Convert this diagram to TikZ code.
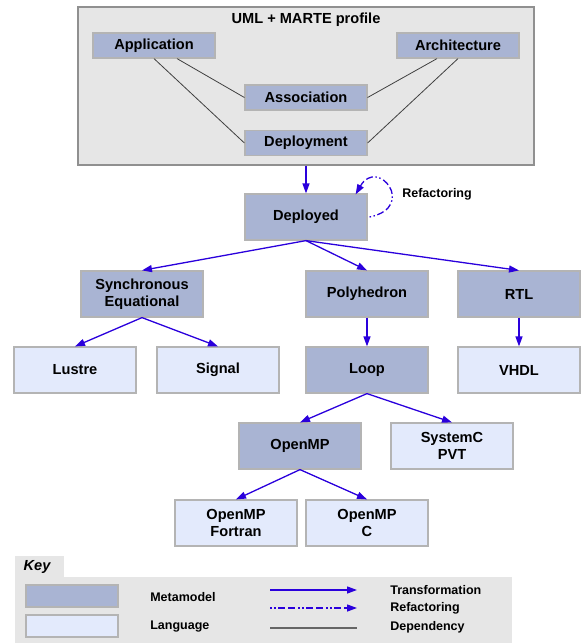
\documentclass[tikz,border=0pt]{standalone}
\usepackage{fontspec}
\setmainfont{Liberation Sans}
\usetikzlibrary{positioning, arrows.meta, calc, shapes}

\definecolor{metafill}{HTML}{A9B4D3}
\definecolor{langfill}{HTML}{E3EAFC}
\definecolor{boxline}{HTML}{B4B4B4}
\definecolor{panelfill}{HTML}{E6E6E6}
\definecolor{trans}{HTML}{2A00DC}

\begin{document}
\begin{tikzpicture}[x=1pt, y=-1pt, >={Triangle[length=10pt,width=7pt]}, semithick,
  meta/.style={draw=boxline, line width=1.2pt, fill=metafill, minimum width=122pt, minimum height=46pt, inner sep=0pt, align=center, font=\fontsize{14.6}{17}\selectfont\bfseries},
  lang/.style={meta, fill=langfill},
  small/.style={meta, minimum height=25pt},
  transf/.style={->, draw=trans, line width=1.3pt},
  refac/.style={transf, dash pattern=on 1.5pt off 2.5pt on 1.5pt off 2.5pt on 7pt off 3pt on 7pt off 3pt},
  dep/.style={draw=black!75, line width=.8pt},
  keytext/.style={anchor=west, inner sep=0pt, font=\fontsize{12.5}{14}\selectfont\bfseries}]
  \useasboundingbox (0,0) rectangle (581,643);

  % UML + MARTE profile
  \node[draw=boxline!80!black, line width=1.2pt, fill=panelfill, minimum width=456pt, minimum height=158pt, inner sep=0pt] (uml) at (306,86) {};
  \node[font=\fontsize{14.6}{17}\selectfont\bfseries] (umltitle) at (306,20) {UML + MARTE profile};
  \node[small] (app) at (154,45.5) {Application};
  \node[small] (arch) at (458,45.5) {Architecture};
  \node[small] (assoc) at (306,97.5) {Association};
  \node[small] (deploy) at (306,143) {Deployment};

  \path[every edge/.append style={dep}]
    ([xshift=23pt]app.south) edge (assoc.west)
    (app.south) edge (deploy.west)
    ([xshift=-21pt]arch.south) edge (assoc.east)
    (arch.south) edge (deploy.east);

  % metamodels and languages
  \node[meta] (deployed) at (306,217) {Deployed};
  \node[meta] (sync) at (142,294) {Synchronous\\Equational};
  \node[meta] (poly) at (367,294) {Polyhedron};
  \node[meta] (rtl) at (519,294) {RTL};
  \node[lang] (lustre) at (75,370) {Lustre};
  \node[lang] (signal) at (218,370) {Signal};
  \node[meta] (loop) at (367,370) {Loop};
  \node[lang] (vhdl) at (519,370) {VHDL};
  \node[meta] (openmp) at (300,446) {OpenMP};
  \node[lang] (systemc) at (452,446) {SystemC\\PVT};
  \node[lang] (fortran) at (236,523) {OpenMP\\Fortran};
  \node[lang] (ompc) at (367,523) {OpenMP\\C};

  \path[every edge/.append style={transf}]
    (uml.south) edge (deployed.north)
    (deployed.south) edge (sync.north)
    (deployed.south) edge (poly.north)
    (deployed.south) edge (rtl.north)
    (sync.south) edge (lustre.north)
    (sync.south) edge (signal.north)
    (poly.south) edge (loop.north)
    (rtl.south) edge (vhdl.north)
    (loop.south) edge (openmp.north)
    (loop.south) edge (systemc.north)
    (openmp.south) edge (fortran.north)
    (openmp.south) edge (ompc.north);

  \draw[refac] ([xshift=2pt]deployed.east) .. controls +(48,-10) and +(22,-38) .. ([xshift=-12pt,yshift=-1pt]deployed.north east);
  \node[keytext] (refaclabel) at (402,194) {Refactoring};

  % key
  \node[fill=panelfill, minimum width=49pt, minimum height=21pt, inner sep=0pt] (keytab) at (39.5,566.5) {};
  \node[font=\fontsize{14.6}{17}\selectfont\bfseries\itshape] (keyname) at (37,567) {Key};
  \node[fill=panelfill, minimum width=497pt, minimum height=66pt, inner sep=0pt] (keypanel) at (263.5,610) {};
  \node[meta, minimum width=92pt, minimum height=22pt] (metaswatch) at (72,596) {};
  \node[lang, minimum width=92pt, minimum height=22pt] (langswatch) at (72,626) {};
  \node[keytext] (metalabel) at (150,597) {Metamodel};
  \node[keytext] (langlabel) at (150,627) {Language};

  \coordinate (t1) at (270,590);
  \coordinate (t2) at (357,590);
  \coordinate (r1) at (270,608);
  \coordinate (r2) at (357,608);
  \coordinate (d1) at (270,628);
  \coordinate (d2) at (357,628);
  \draw[transf] (t1) -- (t2);
  \draw[refac] (r1) -- (r2);
  \draw[dep, draw=black!60, line width=1.2pt] (d1) -- (d2);
  \node[keytext] (translabel) at (390,590) {Transformation};
  \node[keytext] (refkeylabel) at (390,608) {Refactoring};
  \node[keytext] (deplabel) at (390,627) {Dependency};
\end{tikzpicture}
\end{document}
